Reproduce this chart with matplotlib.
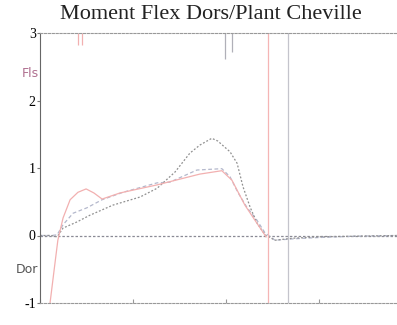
import matplotlib
matplotlib.use('Agg')
import matplotlib.pyplot as plt

# stance/swing cycle (%), ankle moment (N.m/kg)
x_a = [0, 3, 4.6, 6.2, 9.9, 13.4, 19.6, 26.9, 31.5, 36.3, 40.3, 43.0, 46.2, 47.8, 51.1, 53.0,
       54.6, 56.5, 58.3, 60.5, 63.2, 68, 75, 85, 96]
y_a = [0, 0, -0.02, 0.11, 0.20, 0.30, 0.45, 0.57, 0.70, 0.94, 1.22, 1.34, 1.44, 1.40, 1.24, 1.07,
       0.72, 0.42, 0.19, 0.01, -0.07, -0.04, -0.02, -0.01, 0]

x_b = [0, 3, 4.6, 6.2, 8.9, 12.6, 16.7, 22.3, 31.5, 34.9, 42.2, 48.9, 51.1, 53.2, 55.6,
       58.3, 60.5, 63.2, 68, 75, 85, 96]
y_b = [0, 0, 0.01, 0.16, 0.33, 0.41, 0.53, 0.64, 0.78, 0.79, 0.97, 0.99, 0.87, 0.64, 0.42,
       0.23, 0.04, -0.07, -0.05, -0.03, -0.01, 0]

x_c = [2.7, 3.8, 4.8, 6.2, 8.1, 10.2, 12.4, 14.5, 16.7, 21.5, 31.5, 43.0, 48.9, 51.6, 55.1,
       58.6, 60.8]
y_c = [-1.0, -0.51, -0.07, 0.26, 0.53, 0.64, 0.69, 0.63, 0.54, 0.63, 0.75, 0.91, 0.96, 0.82, 0.45,
       0.16, -0.02]

# gait events
toe_off = [61.3, 66.7]
toe_off_colors = ['#f5b5b5', '#c4c4cc']
short_events = [10.2, 11.3, 49.7, 51.6]
short_colors = ['#f2b0b0', '#f2b0b0', '#b0b0b8', '#b0b0b8']
short_len = [0.18, 0.18, 0.38, 0.28]

yticks = [-1, 0, 1, 2, 3]

fig = plt.figure(figsize=(3.97, 3.25), dpi=100)
ax = fig.add_axes([40 / 397, 22 / 325, 357 / 397, 270 / 325])

ax.axhline(0, color='#8a8a95', lw=0.9, ls=(0, (2, 1.5)))
ax.plot(x_b, y_b, color='#b4b8cc', lw=0.9, ls=(0, (3, 2)))
ax.plot(x_a, y_a, color='#909090', lw=0.9, ls=(0, (1.5, 1.5)))
ax.plot(x_c, y_c, color='#f2b0b0', lw=0.9)

for xv, c in zip(toe_off, toe_off_colors):
    ax.axvline(xv, color=c, lw=0.9)
for xv, c, l in zip(short_events, short_colors, short_len):
    ax.vlines(xv, 3 - l, 3, color=c, lw=0.9)

ax.set_xlim(0, 96)
ax.set_ylim(-1, 3)
ax.set_xticks([0, 25, 50, 75])
ax.set_xticklabels([])
ax.set_yticks(yticks)
ax.set_yticklabels([str(v) for v in yticks], fontsize=10, family='Liberation Serif')
ax.tick_params(axis='y', direction='out', length=2, pad=1, color='#777777')
ax.tick_params(axis='x', direction='in', length=3, color='#999999')

for side in ['top', 'bottom']:
    ax.spines[side].set_color('#999999')
    ax.spines[side].set_linestyle((0, (2, 1.5)))
ax.spines['right'].set_visible(False)
ax.spines['left'].set_color('#666666')

ax.text(-0.4, 2.4, 'Fls', ha='right', va='center',
        fontsize=9, color='#b07090', clip_on=False)
ax.text(-0.4, -0.5, 'Dor', ha='right', va='center',
        fontsize=9, color='#555555', clip_on=False)

fig.text(0.53, 0.955, 'Moment Flex Dors/Plant Cheville', ha='center', va='center',
         fontsize=16, family='Liberation Serif', color='#222222')

fig.savefig('out.png', dpi=100)
